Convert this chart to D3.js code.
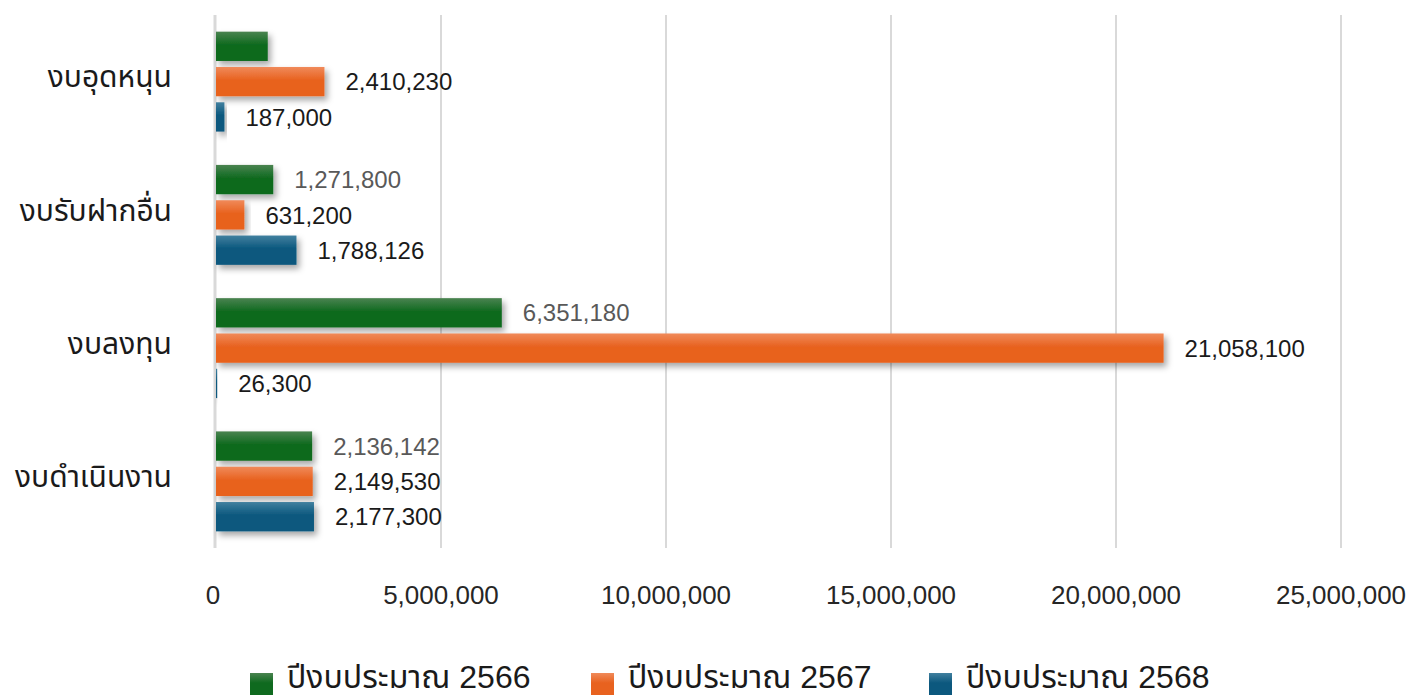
<!DOCTYPE html>
<html><head><meta charset="utf-8">
<script src="https://cdn.jsdelivr.net/npm/d3@7"></script>
<style>
html,body{margin:0;padding:0;background:#fff;}
svg{display:block;}
</style>
</head><body>
<svg id="chart" width="1414" height="695"></svg>
<script>
const categories = ["งบอุดหนุน", "งบรับฝากอื่น", "งบลงทุน", "งบดำเนินงาน"];
const seriesNames = ["ปีงบประมาณ 2566", "ปีงบประมาณ 2567", "ปีงบประมาณ 2568"];
const values2566 = [1150000, 1271800, 6351180, 2136142];
const values2567 = [2410230, 631200, 21058100, 2149530];
const values2568 = [187000, 1788126, 26300, 2177300];
const showLabel2566 = [false, true, true, true];
const xTicks = [0, 5000000, 10000000, 15000000, 20000000, 25000000];

const colors = [
  {top:"#4a8350", bottom:"#0f6a1f"},
  {top:"#f08a5a", bottom:"#e8621f"},
  {top:"#41809f", bottom:"#0c587e"}
];
const labelColors = ["#595959", "#1a1a1a", "#1a1a1a"];
const allValues = [values2566, values2567, values2568];

const svg = d3.select("#chart");
const defs = svg.append("defs");
colors.forEach((c,i)=>{
  const g = defs.append("linearGradient").attr("id","grad"+i).attr("x1",0).attr("y1",0).attr("x2",0).attr("y2",1);
  g.append("stop").attr("offset","0%").attr("stop-color",c.top);
  g.append("stop").attr("offset","45%").attr("stop-color",c.bottom);
  g.append("stop").attr("offset","100%").attr("stop-color",c.bottom);
});
const f = defs.append("filter").attr("id","shadow").attr("x","-10%").attr("y","-30%").attr("width","130%").attr("height","180%");
f.append("feDropShadow").attr("dx",3).attr("dy",4).attr("stdDeviation",3).attr("flood-color","#000").attr("flood-opacity",0.35);

const x = d3.scaleLinear().domain([0, 25000000]).range([216, 1341]);
const y0 = d3.scaleBand().domain(categories).range([15, 548]).paddingInner(0.25).paddingOuter(0.125);
const y1 = d3.scaleBand().domain([0,1,2]).range([0, y0.bandwidth()]).paddingInner(0.17);

const numFont = "'Liberation Sans', Arial, sans-serif";
const thaiFont = "'Liberation Sans', 'Noto Sans Thai', 'Noto Sans', sans-serif";

// gridlines
svg.append("g").selectAll("line").data(xTicks.slice(1)).join("line")
  .attr("x1", d=>x(d)).attr("x2", d=>x(d)).attr("y1", 15).attr("y2", 548)
  .attr("stroke", "#d9d9d9").attr("stroke-width", 2);
// axis line
svg.append("line").attr("x1", x(0)-1).attr("x2", x(0)-1).attr("y1", 15).attr("y2", 548)
  .attr("stroke", "#d9d9d9").attr("stroke-width", 3);

// x tick labels
svg.append("g").selectAll("text").data(xTicks).join("text")
  .attr("x", d=>x(d) - (d===0?3:0)).attr("y", 604)
  .attr("text-anchor","middle")
  .attr("font-family", numFont).attr("font-size", 26).attr("fill", "#262626")
  .text(d=>d3.format(",")(d));

// bars
categories.forEach((cat, ci)=>{
  const g = svg.append("g").attr("transform", `translate(0,${y0(cat)})`);
  allValues.forEach((vals, si)=>{
    const v = vals[ci];
    g.append("rect")
      .attr("x", x(0)).attr("y", y1(si))
      .attr("width", Math.max(1, x(v)-x(0))).attr("height", y1.bandwidth())
      .attr("fill", `url(#grad${si})`).attr("filter","url(#shadow)");
    if (si !== 0 || showLabel2566[ci]) {
      g.append("text")
        .attr("x", x(v) + 21).attr("y", y1(si) + y1.bandwidth()/2)
        .attr("dy", "0.36em")
        .attr("font-family", numFont).attr("font-size", 24)
        .attr("fill", labelColors[si])
        .text(d3.format(",")(v));
    }
  });
  svg.append("text")
    .attr("x", 172).attr("y", y0(cat) + y0.bandwidth()/2 - 5)
    .attr("dy","0.36em").attr("text-anchor","end")
    .attr("font-family", "'Noto Sans Thai', 'Noto Sans', sans-serif").attr("font-size", 30).attr("fill","#1a1a1a")
    .text(cat);
});

// legend
const legendX = [250, 591, 929];
seriesNames.forEach((name, i)=>{
  const lg = svg.append("g").attr("transform", `translate(${legendX[i]},673)`);
  lg.append("rect").attr("x",0).attr("y",0).attr("width",23).attr("height",22)
    .attr("fill", `url(#grad${i})`);
  lg.append("text").attr("x", 37).attr("y", 15)
    .attr("font-family", thaiFont).attr("font-size", 32).attr("fill","#1a1a1a")
    .text(name);
});
</script>
</body></html>
